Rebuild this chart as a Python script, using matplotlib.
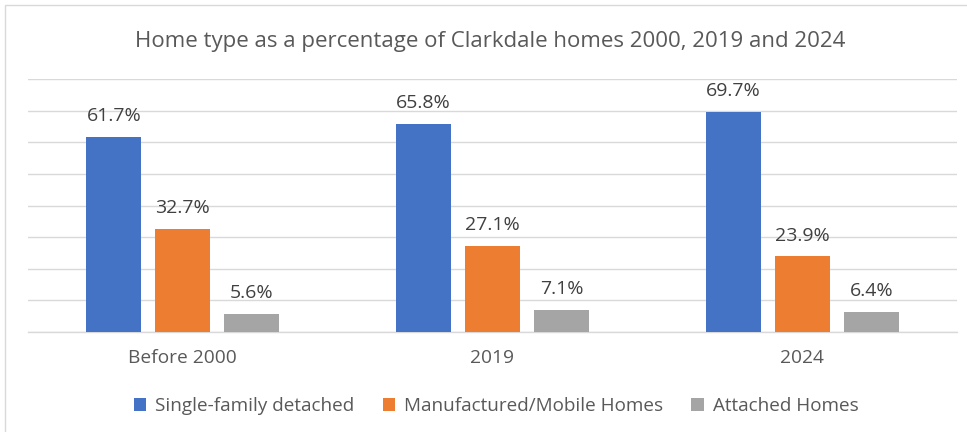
import numpy as np
import matplotlib
matplotlib.use("Agg")
import matplotlib.pyplot as plt
from matplotlib.patches import Rectangle

plt.rcParams['font.family'] = ['Open Sans', 'DejaVu Sans']

# Data
categories = ["Before 2000", "2019", "2024"]
series_names = ["Single-family detached", "Manufactured/Mobile Homes", "Attached Homes"]
single_family = [61.7, 65.8, 69.7]
manufactured = [32.7, 27.1, 23.9]
attached = [5.6, 7.1, 6.4]
series_values = [single_family, manufactured, attached]
colors = ["#4472C4", "#ED7D31", "#A5A5A5"]

text_color = "#595959"
grid_color = "#D9D9D9"

fig = plt.figure(figsize=(9.67, 4.32), dpi=100)
ax = fig.add_axes([28 / 967, 1 - 332 / 432, (957 - 28) / 967, (332 - 79) / 432])

# Chart frame (top and left edges visible)
fig.patches.append(Rectangle((5 / 967, -0.1), 1.2, 1 - 5 / 432 + 0.1,
                             transform=fig.transFigure, fill=False,
                             edgecolor="#D9D9D9", linewidth=1.0))

x = np.arange(len(categories))
width = 0.178
step = 0.223

handles = []
for i, (name, vals, col) in enumerate(zip(series_names, series_values, colors)):
    pos = x + (i - 1) * step
    bars = ax.bar(pos, vals, width=width, color=col, label=name, zorder=3)
    handles.append(bars)
    for b, v in zip(bars, vals):
        ax.annotate(f"{v:.1f}%", (b.get_x() + b.get_width() / 2, v),
                    xytext=(0, 15), textcoords="offset points",
                    ha="center", va="center", fontsize=14, color="#404040")

ax.set_xlim(-0.5, len(categories) - 0.5)
ax.set_ylim(0, 80)
ax.set_yticks(np.arange(0, 81, 10))
ax.yaxis.grid(True, color=grid_color, linewidth=1.0, zorder=0)
ax.tick_params(axis="y", left=False, labelleft=False)
ax.tick_params(axis="x", bottom=False, labelsize=13.8, labelcolor=text_color, pad=9)
ax.set_xticks(x)
ax.set_xticklabels(categories)
for s in ["top", "right", "left"]:
    ax.spines[s].set_visible(False)
ax.spines["bottom"].set_color(grid_color)
ax.spines["bottom"].set_linewidth(1.0)

fig.text(490 / 967, 1 - 42 / 432, "Home type as a percentage of Clarkdale homes 2000, 2019 and 2024",
         ha="center", va="center", fontsize=16, color=text_color)

leg = fig.legend(handles=handles, labels=series_names, loc="center",
                 bbox_to_anchor=(496 / 967, 1 - 406 / 432), ncol=3, frameon=False,
                 fontsize=13.6, labelcolor=text_color, handlelength=0.68,
                 handleheight=0.68, handletextpad=0.45, columnspacing=1.5)

fig.savefig("out.png", dpi=100)
